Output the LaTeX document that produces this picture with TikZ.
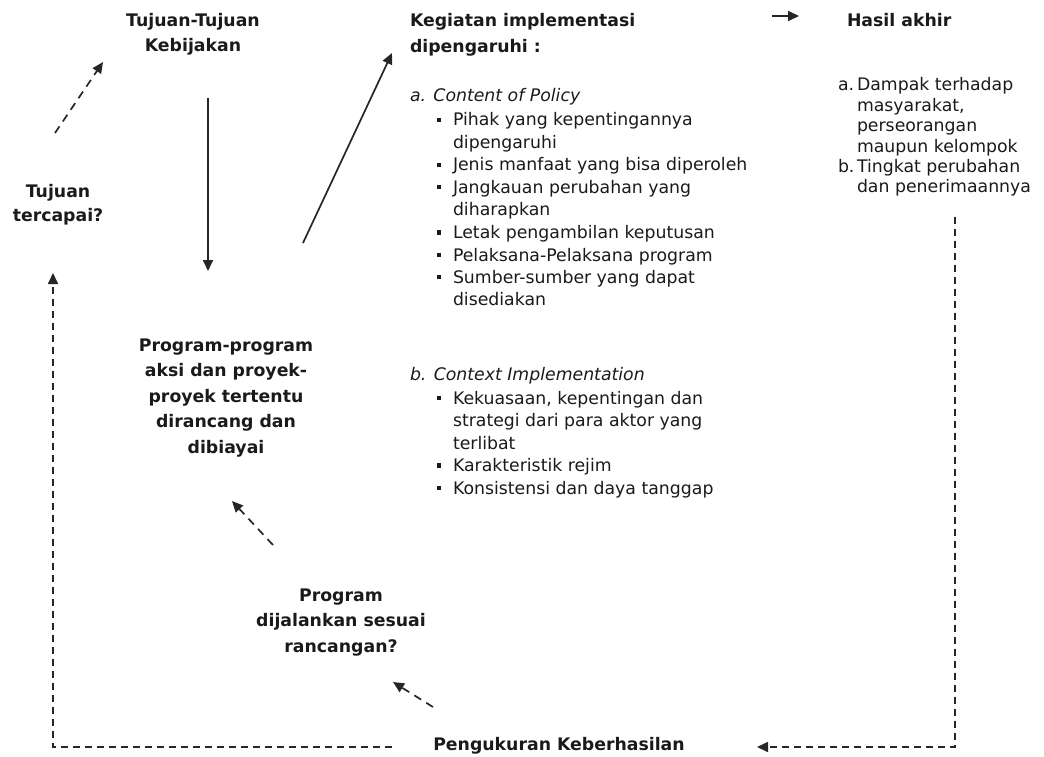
\documentclass[tikz,border=0pt]{standalone}
\usepackage{fontspec}
\setmainfont{DejaVu Sans}
\usetikzlibrary{arrows.meta}
\definecolor{ink}{HTML}{1A1A1A}
\definecolor{lin}{HTML}{262626}
\newcommand{\bul}{\rule[4pt]{4.3pt}{4.3pt}}
\tikzset{
  txt/.style={inner sep=0pt, outer sep=0pt, text=ink, font=\fontsize{17.3}{22.5}\selectfont},
  ttl/.style={txt, font=\fontsize{17.3}{24.5}\selectfont\bfseries},
  conn/.style={draw=lin, line width=1.7pt, -{Triangle[length=11pt,width=10pt]}},
  dconn/.style={conn, dash pattern=on 7pt off 5pt},
}
\begin{document}
\begin{tikzpicture}[x=1pt,y=-1pt]
\useasboundingbox (0,0) rectangle (1044,757);

% titles and boxes of text
\node[ttl, anchor=base] (tujuankeb) at (193,27)
  {\begin{tabular}[t]{@{}c@{}}Tujuan-Tujuan\\Kebijakan\end{tabular}};
\node[ttl, anchor=base] (tercapai) at (58,197)
  {\begin{tabular}[t]{@{}c@{}}Tujuan\\tercapai?\end{tabular}};
\node[ttl, font=\fontsize{17.3}{25.5}\selectfont\bfseries, anchor=base] (program) at (226,351)
  {\begin{tabular}[t]{@{}c@{}}Program-program\\aksi dan proyek-\\proyek tertentu\\dirancang dan\\dibiayai\end{tabular}};
\node[ttl, font=\fontsize{17.3}{25.5}\selectfont\bfseries, anchor=base] (dijalankan) at (341,601)
  {\begin{tabular}[t]{@{}c@{}}Program\\dijalankan sesuai\\rancangan?\end{tabular}};
\node[ttl, anchor=base] (pengukuran) at (559,750) {Pengukuran Keberhasilan};

\node[ttl, font=\fontsize{17.3}{25.5}\selectfont\bfseries, anchor=base west] (kegiatan) at (410,27)
  {\begin{tabular}[t]{@{}l@{}}Kegiatan implementasi\\dipengaruhi :\end{tabular}};
\node[txt, anchor=base west] (contentlbl) at (410,102) {\textit{a. Content of Policy}};
\node[txt, anchor=base west] (contentlist) at (437,126)
  {\begin{tabular}[t]{@{}p{16pt}@{}l@{}}
   \bul & Pihak yang kepentingannya\\
        & dipengaruhi\\
   \bul & Jenis manfaat yang bisa diperoleh\\
   \bul & Jangkauan perubahan yang\\
        & diharapkan\\
   \bul & Letak pengambilan keputusan\\
   \bul & Pelaksana-Pelaksana program\\
   \bul & Sumber-sumber yang dapat\\
        & disediakan
  \end{tabular}};
\node[txt, anchor=base west] (contextlbl) at (410,380) {\textit{b. Context Implementation}};
\node[txt, anchor=base west] (contextlist) at (437,404)
  {\begin{tabular}[t]{@{}p{16pt}@{}l@{}}
   \bul & Kekuasaan, kepentingan dan\\
        & strategi dari para aktor yang\\
        & terlibat\\
   \bul & Karakteristik rejim\\
   \bul & Konsistensi dan daya tanggap
  \end{tabular}};

\node[ttl, anchor=base west] (hasil) at (847,27) {Hasil akhir};
\node[txt, font=\fontsize{17.3}{20.4}\selectfont, anchor=base west] (hasillist) at (838,91)
  {\begin{tabular}[t]{@{}p{19pt}@{}l@{}}
   a. & Dampak terhadap\\
      & masyarakat,\\
      & perseorangan\\
      & maupun kelompok\\
   b. & Tingkat perubahan\\
      & dan penerimaannya
  \end{tabular}};

% connector ends
\coordinate (downS) at (208,98);   \coordinate (downE) at (208,271);
\coordinate (diagS) at (303,243);  \coordinate (diagE) at (392,53);
\coordinate (smallS) at (772,16);  \coordinate (smallE) at (799,16);
\coordinate (upS) at (55,133);     \coordinate (upE) at (103,62);
\coordinate (loopL0) at (392,747); \coordinate (loopL1) at (53,747); \coordinate (loopL2) at (53,273);
\coordinate (loopR0) at (955,217); \coordinate (loopR1) at (955,747); \coordinate (loopR2) at (757,747);
\coordinate (midS) at (273,545);   \coordinate (midE) at (232,501);
\coordinate (lowS) at (433,707);   \coordinate (lowE) at (393,682);

\draw[conn] (downS) -- (downE);
\draw[conn] (diagS) -- (diagE);
\draw[conn] (smallS) -- (smallE);
\draw[dconn, dash pattern=on 8pt off 6pt] (upS) -- (upE);
\draw[dconn] (loopL0) -- (loopL1) -- (loopL2);
\draw[dconn] (loopR0) -- (loopR1) -- (loopR2);
\draw[dconn, dash pattern=on 8pt off 6pt] (midS) -- (midE);
\draw[dconn, dash pattern=on 8pt off 6pt] (lowS) -- (lowE);
\end{tikzpicture}
\end{document}
